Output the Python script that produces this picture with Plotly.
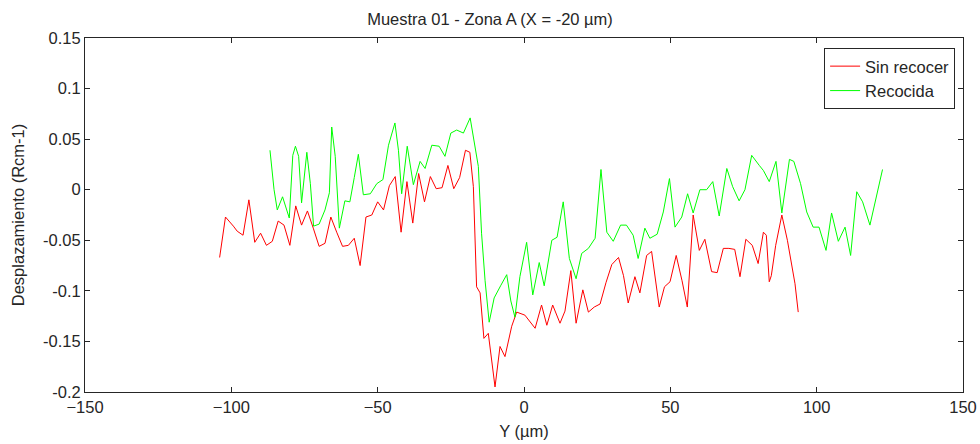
import plotly.graph_objects as go

red_x = [-104, -102, -99.3, -98, -96, -94, -92, -90, -88, -86, -84, -82, -80, -78, -76, -74, -72, -70, -68, -66, -64, -62, -60, -58, -56, -54, -52, -50, -48, -46, -44, -42, -40, -38, -36, -34, -32, -30, -28, -26, -24, -22, -20, -18.5, -17.3, -16.2, -15, -13.7, -12.2, -9.9, -8.2, -6.5, -4.2, -2.5, 0.3, 2, 3.8, 6, 7.8, 9.8, 12.3, 14, 16, 17.8, 20.1, 22, 24, 26, 28, 30, 32.3, 34, 35.6, 37.9, 39.6, 41.9, 43.6, 46.2, 48, 49.9, 52, 54, 55.8, 57.8, 59.9, 61.8, 64.1, 66, 68.1, 70, 72, 73.8, 75.8, 78, 80, 81.8, 82.8, 83.8, 84.5, 86, 88.1, 90, 92.6, 93.7]
red_y = [-0.067, -0.027, -0.036, -0.041, -0.045, -0.010, -0.052, -0.043, -0.055, -0.051, -0.031, -0.035, -0.055, -0.016, -0.035, -0.021, -0.038, -0.056, -0.053, -0.027, -0.042, -0.056, -0.055, -0.048, -0.075, -0.027, -0.025, -0.012, -0.020, 0.004, 0.013, -0.042, 0.008, -0.033, 0.016, -0.012, 0.013, 0.001, 0.002, 0.024, 0.001, 0.012, 0.039, 0.037, 0.003, -0.096, -0.102, -0.147, -0.142, -0.195, -0.155, -0.165, -0.135, -0.121, -0.124, -0.130, -0.137, -0.114, -0.134, -0.114, -0.132, -0.120, -0.080, -0.132, -0.099, -0.121, -0.116, -0.113, -0.092, -0.074, -0.067, -0.085, -0.112, -0.086, -0.102, -0.065, -0.061, -0.116, -0.096, -0.091, -0.065, -0.090, -0.116, -0.025, -0.060, -0.049, -0.081, -0.082, -0.058, -0.058, -0.059, -0.086, -0.049, -0.055, -0.073, -0.042, -0.045, -0.091, -0.085, -0.055, -0.025, -0.050, -0.093, -0.121]

green_x = [-86.8, -85.4, -84.3, -82.5, -80.2, -79, -78.1, -77, -76, -75, -74.2, -73, -71.9, -70, -68, -66.5, -65.7, -64.5, -63.1, -61.2, -59.5, -58, -56.6, -54.9, -52.5, -50.3, -48.2, -46.3, -44.1, -42.9, -41.8, -39.9, -37.8, -35.5, -33.8, -31.5, -29, -27, -25, -23, -20.7, -18.4, -17.5, -15.6, -14.5, -13.3, -11.9, -10.2, -8, -5.9, -4.5, -3.1, -1.4, 0.9, 3, 5.2, 6.9, 9.5, 11.3, 13.4, 15.5, 17.8, 19.7, 22, 24.3, 26.3, 28.3, 30.5, 33, 35, 37.3, 39, 41.3, 43, 45.5, 47.6, 49.7, 51.6, 53.9, 55.9, 57.8, 60.1, 62.4, 64.5, 66.7, 69.3, 71.3, 73.5, 75.5, 77.8, 80.4, 81.8, 83.8, 86.1, 88.1, 90.7, 92.2, 94.5, 96.6, 98.8, 100.8, 103.2, 105.1, 107.4, 109.7, 111.6, 113.7, 115.7, 118.2, 120.5, 122.5]
green_y = [0.039, 0.0, -0.020, -0.007, -0.028, 0.034, 0.043, 0.033, -0.013, 0.012, 0.037, 0.006, -0.036, -0.034, -0.020, -0.003, 0.062, 0.033, -0.038, -0.011, -0.012, 0.012, 0.035, -0.005, -0.004, 0.006, 0.010, 0.044, 0.066, 0.039, -0.004, 0.043, 0.005, 0.028, 0.021, 0.044, 0.043, 0.033, 0.056, 0.059, 0.056, 0.071, 0.056, 0.023, -0.043, -0.090, -0.131, -0.107, -0.095, -0.084, -0.110, -0.126, -0.086, -0.052, -0.104, -0.072, -0.095, -0.050, -0.047, -0.012, -0.068, -0.088, -0.063, -0.058, -0.048, 0.020, -0.042, -0.051, -0.035, -0.035, -0.045, -0.068, -0.038, -0.048, -0.044, -0.022, 0.011, -0.037, -0.027, -0.004, -0.023, 0.000, 0.000, 0.008, -0.026, 0.021, 0.003, -0.011, 0.000, 0.034, 0.024, 0.019, 0.008, 0.028, -0.023, 0.030, 0.028, 0.006, -0.022, -0.037, -0.037, -0.060, -0.023, -0.051, -0.037, -0.065, -0.002, -0.012, -0.035, -0.004, 0.020]

x_ticks = [-150, -100, -50, 0, 50, 100, 150]
y_ticks = [-0.2, -0.15, -0.1, -0.05, 0, 0.05, 0.1, 0.15]
y_tick_text = ["-0.2", "-0.15", "-0.1", "-0.05", "0", "0.05", "0.1", "0.15"]

font = "Liberation Sans, Arial, sans-serif"
fsize = 16.5
txt = "#262626"

fig = go.Figure()
fig.add_trace(go.Scatter(x=red_x, y=red_y, mode="lines", name="Sin recocer",
                         line=dict(color="#ff0000", width=1)))
fig.add_trace(go.Scatter(x=green_x, y=green_y, mode="lines", name="Recocida",
                         line=dict(color="#00ff00", width=1)))

axis_common = dict(showgrid=False, zeroline=False, showline=True, linecolor=txt,
                   linewidth=1, mirror="allticks", ticks="inside", ticklen=5,
                   tickcolor=txt, tickfont=dict(family=font, size=fsize, color=txt),
                   automargin=False)

fig.update_layout(
    width=980, height=444,
    margin=dict(l=85, r=17, t=38, b=52),
    paper_bgcolor="white", plot_bgcolor="white",
    title=dict(text="Muestra 01 - Zona A (X = -20 µm)", x=0.5, xanchor="center",
               y=1 - 19 / 444, yanchor="middle",
               font=dict(family=font, size=fsize, color=txt)),
    xaxis=dict(range=[-150, 150], tickvals=x_ticks,
               title=dict(text="Y (µm)", font=dict(family=font, size=fsize, color=txt), standoff=10),
               **axis_common),
    yaxis=dict(range=[-0.2, 0.15], tickvals=y_ticks, ticktext=y_tick_text,
               title=dict(text="Desplazamiento (Rcm-1)", font=dict(family=font, size=fsize, color=txt), standoff=14),
               **axis_common),
    legend=dict(x=0.991, y=0.972, xanchor="right", yanchor="top",
                bgcolor="white", bordercolor=txt, borderwidth=1,
                font=dict(family=font, size=fsize, color=txt)),
    showlegend=True,
)

fig.write_html("out.html")
